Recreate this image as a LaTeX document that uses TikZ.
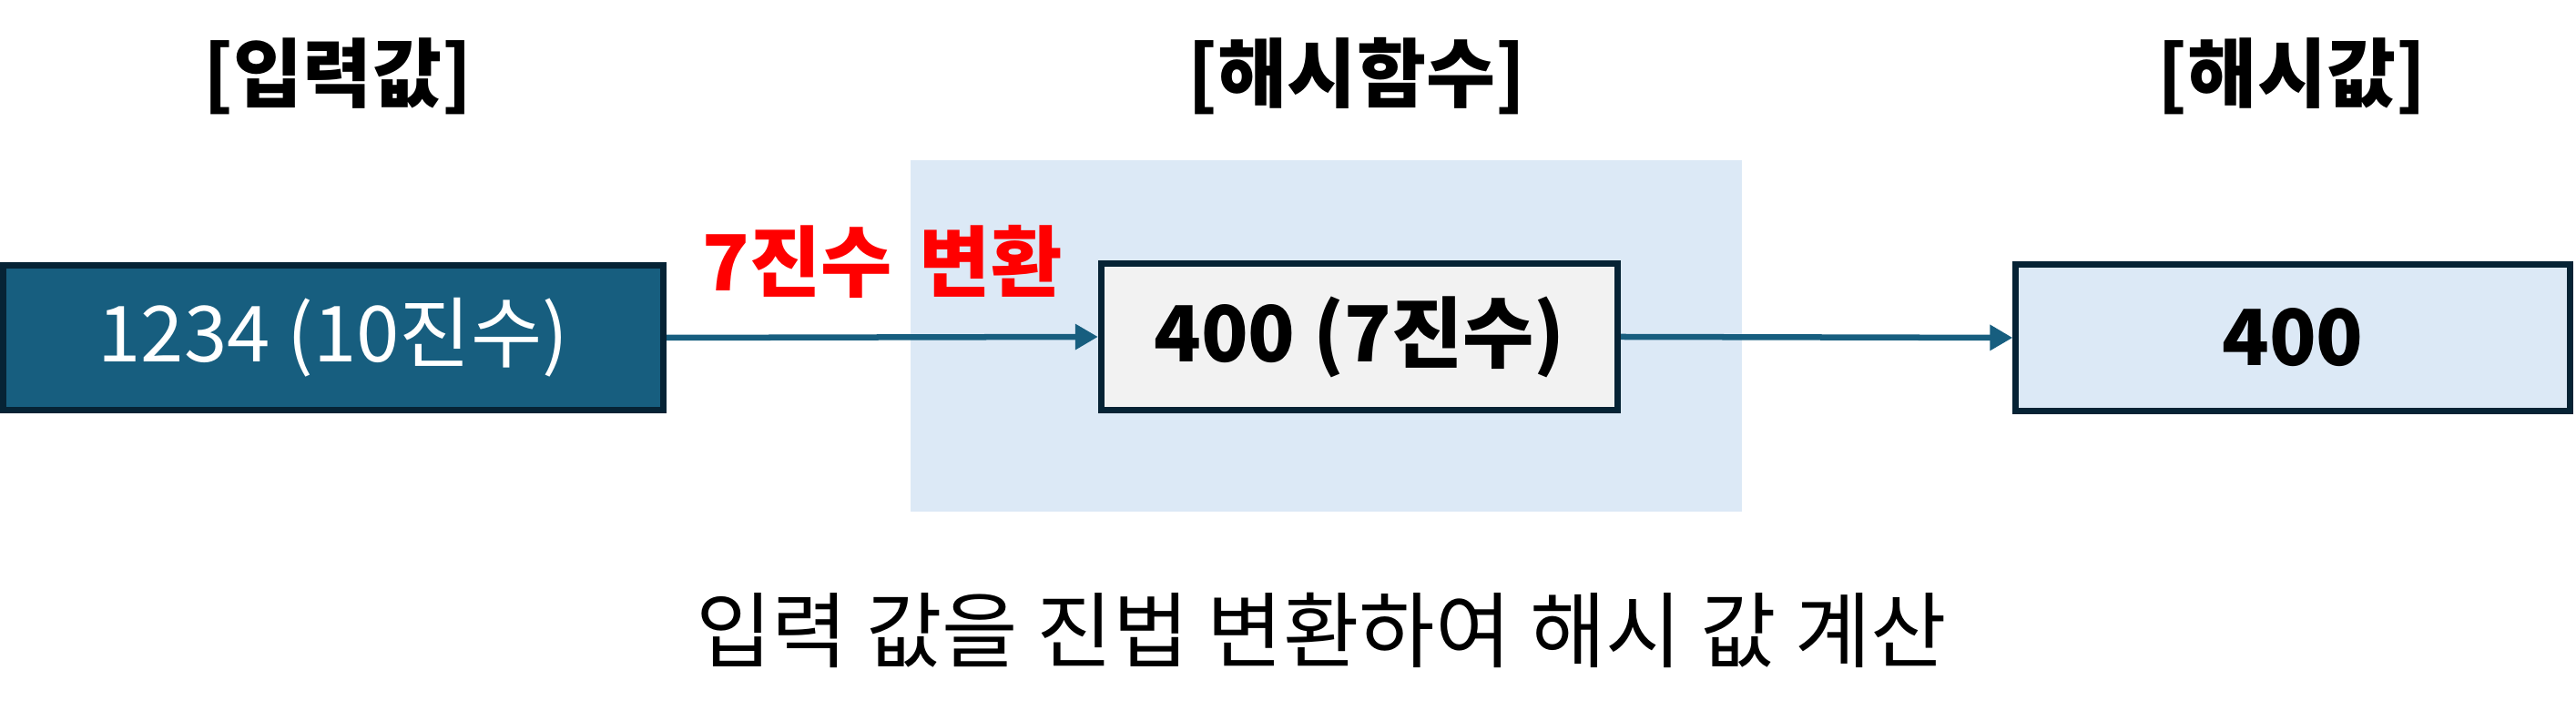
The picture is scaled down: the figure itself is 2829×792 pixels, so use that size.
\documentclass[tikz,border=0pt]{standalone}
\usepackage{fontspec}
\setmainfont{Noto Sans CJK KR}
\usepackage{tikz}
\usetikzlibrary{arrows.meta,positioning}
\definecolor{boxblue}{HTML}{175E7F}
\definecolor{boxline}{HTML}{062335}
\definecolor{paleblue}{HTML}{DCE9F6}
\definecolor{palegray}{HTML}{F2F2F2}
\newcommand\Boxfont{\fontsize{24.2}{29}\selectfont}
\newcommand\Headfont{\fontsize{23.5}{28}\selectfont\bfseries}
\newcommand\Notefont{\fontsize{25.8}{31}\selectfont}

\begin{document}
\begin{tikzpicture}[x=0.01cm,y=-0.01cm,
        valbox/.style={
          draw=boxline, line width=0.07cm, rectangle,
          inner sep=0pt, align=center, font=\Boxfont
        },
        flow/.style={-{Triangle[length=0.25cm,width=0.27cm]}, draw=boxblue, line width=0.065cm},
        head/.style={font=\Headfont, inner sep=0pt}
      ]
        \useasboundingbox (0,0) rectangle (2829,792);

        % Hash function area
        \fill [paleblue] (1000,176) rectangle (1913,562);

        % Boxes
        \node (input) [valbox, fill=boxblue, text=white, minimum width=7.25cm, minimum height=1.59cm] at (366,371) {1234 (10진수)};
        \node (func) [valbox, fill=palegray, font=\Boxfont\bfseries, minimum width=5.67cm, minimum height=1.61cm] at (1493,370) {400 (7진수)};
        \node (hash) [valbox, fill=paleblue, font=\Boxfont\bfseries, minimum width=6.08cm, minimum height=1.60cm] at (2518,371) {400};

        % Headings
        \node (inhead) [head] at (371,84) {[입력값]};
        \node (fnhead) [head] at (1490,84) {[해시함수]};
        \node (hshead) [head] at (2517,84) {[해시값]};

        \draw [flow] (input.east) -- (func.west)
        node [pos=0.5, yshift=0.83cm, inner sep=0pt, text=red, font=\Boxfont\bfseries] (convlabel) {7진수\hspace{0.3cm}변환};
        \draw [flow] (func.east) -- (hash.west);

        \node (note) [font=\Notefont, inner sep=0pt] at (1451,692) {입력 값을 진법 변환하여 해시 값 계산};

      \end{tikzpicture}
\end{document}
